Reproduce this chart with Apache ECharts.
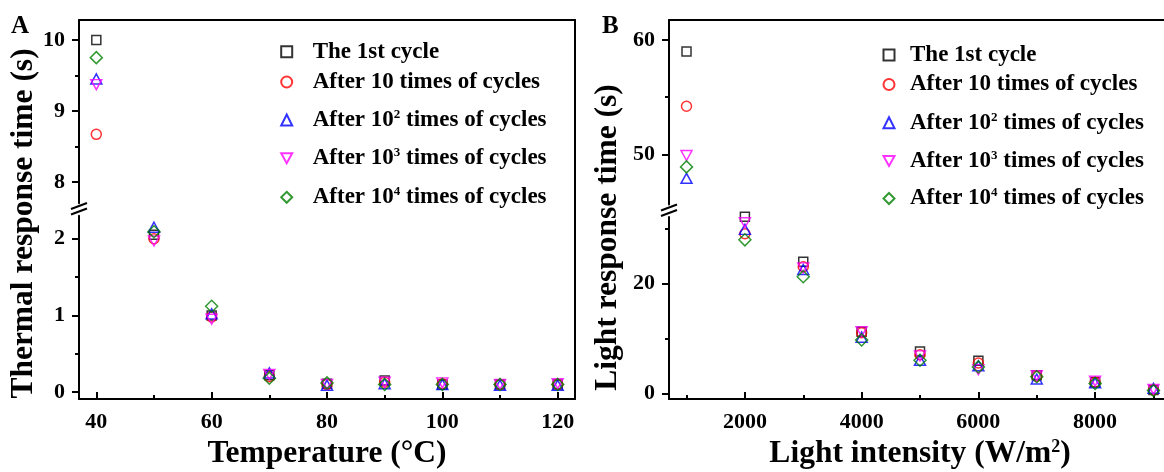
<!DOCTYPE html>
<html>
<head>
<meta charset="utf-8">
<script src="https://cdn.jsdelivr.net/npm/echarts@6/dist/echarts.min.js"></script>
<style>html,body{margin:0;background:#fff}#main{width:1164px;height:472px}</style>
</head>
<body>
<div id="main"></div>
<script>
// ---- data ----
var names = ['The 1st cycle', 'After 10 times of cycles', 'After 10² times of cycles',
             'After 10³ times of cycles', 'After 10⁴ times of cycles'];

// panel A: thermal response time (s) vs temperature (C)
var tempX = [40, 50, 60, 70, 80, 90, 100, 110, 120];
var thermal1 = [10.0, 2.05, 1.00, 0.22, 0.11, 0.15, 0.10, 0.10, 0.10];
var thermal10 = [8.67, 2.00, 0.98, 0.20, 0.10, 0.13, 0.11, 0.10, 0.10];
var thermal100 = [9.45, 2.15, 1.02, 0.25, 0.09, 0.11, 0.10, 0.09, 0.09];
var thermal1000 = [9.37, 1.97, 0.95, 0.23, 0.10, 0.13, 0.12, 0.10, 0.11];
var thermal10000 = [9.75, 2.09, 1.12, 0.18, 0.12, 0.10, 0.10, 0.10, 0.10];

// panel B: light response time (s) vs light intensity (W/m2)
var lightX = [1000, 2000, 3000, 4000, 5000, 6000, 7000, 8000, 9000];
var light1 = [59.0, 32.1, 23.9, 11.2, 7.6, 5.9, 3.3, 2.0, 0.6];
var light10 = [54.2, 29.0, 23.0, 11.0, 7.0, 5.5, 3.1, 2.0, 0.6];
var light100 = [47.9, 29.8, 22.5, 10.2, 6.0, 5.0, 2.6, 1.9, 0.9];
var light1000 = [49.9, 31.0, 22.8, 11.2, 6.8, 4.3, 3.2, 2.2, 0.7];
var light10000 = [48.9, 27.9, 21.2, 9.7, 6.0, 4.8, 3.0, 1.8, 0.5];

// ticks
var tempTicks = [40, 60, 80, 100, 120], tempMinor = [50, 70, 90, 110];
var lightTicks = [2000, 4000, 6000, 8000], lightMinor = [1000, 3000, 5000, 7000, 9000];
var thermUpTicks = [8, 9, 10], thermUpMinor = [8.5, 9.5];
var thermLowTicks = [0, 1, 2], thermLowMinor = [0.5, 1.5];
var lightUpTicks = [50, 60], lightUpMinor = [55];
var lightLowTicks = [0, 20], lightLowMinor = [10, 30];

var FONT = 'Liberation Serif';
var styles = [
    { symbol: 'rect', size: 9, color: '#000000' },
    { symbol: 'circle', size: 10, color: '#ff0000' },
    { symbol: 'triangle', size: [11, 10], color: '#0000ff' },
    { symbol: 'path://M0,0L10,0L5,9Z', size: [11, 10], color: '#ff00ff' },
    { symbol: 'diamond', size: [12, 12], color: '#008000' }
];

function txt(size) {
    return { fontFamily: FONT, fontWeight: 'bold', fontSize: size, color: '#000' };
}
var black = { color: '#000', width: 2 };
var plain = function(v) { return String(v); };

function yPair(grid, min, max, ticks, minor) {
    return [{
        type: 'value', gridIndex: grid, position: 'left', min: min, max: max,
        axisLine: { show: true, onZero: false, lineStyle: black },
        axisTick: { show: true, length: 7, customValues: ticks, lineStyle: black },
        axisLabel: Object.assign({ customValues: ticks, margin: 14, formatter: plain }, txt(22)),
        splitLine: { show: false }
    }, {
        type: 'value', gridIndex: grid, position: 'left', min: min, max: max,
        axisLine: { show: false, onZero: false },
        axisTick: { show: true, length: 4, customValues: minor, lineStyle: black },
        axisLabel: { show: false }, splitLine: { show: false }
    }];
}
function frameY(grid) {
    return {
        type: 'value', gridIndex: grid, position: 'right', min: 0, max: 1,
        axisLine: { show: true, onZero: false, lineStyle: black },
        axisTick: { show: false }, axisLabel: { show: false }, splitLine: { show: false }
    };
}
function titleY(grid, name, gap) {
    return {
        type: 'value', gridIndex: grid, position: 'left', min: 0, max: 1,
        axisLine: { show: false }, axisTick: { show: false }, axisLabel: { show: false },
        splitLine: { show: false },
        name: name, nameLocation: 'middle', nameGap: gap, nameRotate: 90, nameMoveOverlap: false,
        nameTextStyle: txt(31.5)
    };
}
function xSet(gUp, gLow, gFrame, min, max, ticks, minor, name, rich) {
    return [
        { type: 'value', gridIndex: gUp, min: min, max: max, show: false },
        {
            type: 'value', gridIndex: gLow, position: 'bottom', min: min, max: max,
            axisLine: { show: true, onZero: false, lineStyle: black },
            axisTick: { show: true, inside: true, length: 7, customValues: ticks, lineStyle: black },
            axisLabel: Object.assign({ customValues: ticks, margin: 12, formatter: plain }, txt(22)),
            splitLine: { show: false },
            name: name, nameLocation: 'middle', nameGap: 39, nameMoveOverlap: false,
            nameTextStyle: Object.assign({ rich: rich }, txt(31.5))
        },
        {
            type: 'value', gridIndex: gLow, position: 'bottom', min: min, max: max,
            axisLine: { show: false, onZero: false },
            axisTick: { show: true, inside: true, length: 4, customValues: minor, lineStyle: black },
            axisLabel: { show: false }, splitLine: { show: false }
        },
        {
            type: 'value', gridIndex: gFrame, position: 'top', min: 0, max: 1,
            axisLine: { show: true, onZero: false, lineStyle: black },
            axisTick: { show: false }, axisLabel: { show: false }, splitLine: { show: false }
        }
    ];
}

function pts(xs, ys, keep) {
    var out = [];
    for (var i = 0; i < xs.length; i++) {
        if (keep(ys[i])) out.push([xs[i], ys[i]]);
    }
    return out;
}
function panelSeries(xs, sets, cut, xUp, yUp, xLow, yLow) {
    var out = [];
    sets.forEach(function(ys, k) {
        var st = styles[k];
        var base = {
            type: 'scatter', name: names[k], symbol: st.symbol, symbolSize: st.size, clip: false,
            itemStyle: { color: 'transparent', borderColor: st.color, borderWidth: 1.5 },
            emphasis: { disabled: true }
        };
        out.push(Object.assign({ xAxisIndex: xUp, yAxisIndex: yUp,
            data: pts(xs, ys, function(v) { return v > cut; }) }, base));
        out.push(Object.assign({ xAxisIndex: xLow, yAxisIndex: yLow,
            data: pts(xs, ys, function(v) { return v <= cut; }) }, base));
    });
    return out;
}

var supRich = { sup: { fontFamily: FONT, fontWeight: 'bold', fontSize: 13, verticalAlign: 'top', lineHeight: 18, color: '#000' } };
function legendRow(k, iconX, textX, y) {
    var ts = txt(23);
    ts.lineHeight = 24;
    ts.padding = [0, 0, 0, textX - iconX - 5.5 - 5];
    ts.rich = supRich;
    return {
        data: [names[k]], left: iconX - 5.5, top: y - 12, padding: 0,
        itemWidth: 11, itemHeight: 11, selectedMode: false, textStyle: ts,
        formatter: function(n) {
            return n.replace('²', '{sup|2}').replace('³', '{sup|3}').replace('⁴', '{sup|4}');
        }
    };
}
var legA = [51.7, 82, 120, 158.3, 197.3];
var legB = [55, 84.5, 122.7, 161, 198.5];

// grids: A up, A low, A frame, B up, B low, B frame, A title, B title
var grids = [
    { left: 79, right: 589, top: 20, height: 183.2 },
    { left: 79, right: 589, top: 215.7, height: 183.3 },
    { left: 79, right: 589, top: 20, height: 379 },
    { left: 669, right: -7, top: 20, height: 184.6 },
    { left: 669, right: -7, top: 217, height: 182 },
    { left: 669, right: -7, top: 20, height: 379 },
    { left: 79, right: 589, top: 47, height: 353 },
    { left: 669, right: -7, top: 85, height: 305 }
].map(function(g) { g.outerBoundsMode = 'none'; return g; });

var xAxes = xSet(0, 1, 2, 37, 123, tempTicks, tempMinor, 'Temperature (°C)', null)
    .concat(xSet(3, 4, 5, 700, 9300, lightTicks, lightMinor,
        '{n|Light intensity (W/m}{s|2}{n|)}',
        { n: txt(31.5), s: Object.assign({ verticalAlign: 'top', lineHeight: 26 }, txt(18)) }))
    .concat([
        { type: 'value', gridIndex: 6, min: 0, max: 1, show: false },
        { type: 'value', gridIndex: 7, min: 0, max: 1, show: false }
    ]);
var yAxes = yPair(0, 7.7, 10.28, thermUpTicks, thermUpMinor)
    .concat(yPair(1, -0.09, 2.3, thermLowTicks, thermLowMinor))
    .concat([frameY(2)])
    .concat(yPair(3, 45.6, 61.75, lightUpTicks, lightUpMinor))
    .concat(yPair(4, -1.04, 32.05, lightLowTicks, lightLowMinor))
    .concat([frameY(5)])
    .concat([titleY(6, 'Thermal response time (s)', 39), titleY(7, 'Light response time (s)', 45)]);

// y axis indices: A up 0, A low 2, B up 5, B low 7
var series = panelSeries(tempX, [thermal1, thermal10, thermal100, thermal1000, thermal10000], 5, 0, 0, 1, 2)
    .concat(panelSeries(lightX, [light1, light10, light100, light1000, light10000], 40, 4, 5, 5, 7));

var legends = [];
for (var k = 0; k < names.length; k++) {
    legends.push(legendRow(k, 285.7, 311.7, legA[k]));
    legends.push(legendRow(k, 888, 909, legB[k]));
}

// break marks on the left axes
function breakMarks(x, yc) {
    var l = { stroke: '#000', lineWidth: 2 };
    return [
        { type: 'rect', shape: { x: x - 3, y: yc - 4, width: 6, height: 8 }, style: { fill: '#fff' } },
        { type: 'line', shape: { x1: x - 8, y1: yc - 0.5, x2: x + 8, y2: yc - 6.5 }, style: l },
        { type: 'line', shape: { x1: x - 8, y1: yc + 5, x2: x + 8, y2: yc - 1 }, style: l }
    ];
}

var chart = echarts.init(document.getElementById('main'));
chart.setOption({
    animation: false,
    backgroundColor: '#fff',
    title: [
        { text: 'A', left: 11, top: 14, padding: 0, textStyle: txt(25) },
        { text: 'B', left: 602, top: 14, padding: 0, textStyle: txt(25) }
    ],
    legend: legends,
    grid: grids,
    xAxis: xAxes,
    yAxis: yAxes,
    series: series,
    graphic: breakMarks(79, 209.5).concat(breakMarks(669, 211))
});
</script>
</body>
</html>
